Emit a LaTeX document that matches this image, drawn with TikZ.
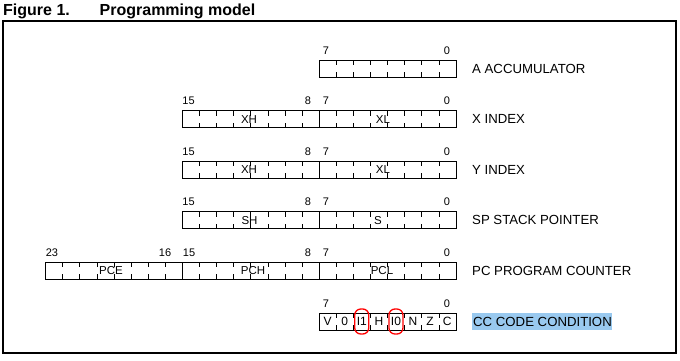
\documentclass[tikz,border=0pt]{standalone}
\usepackage{fontspec}
\setmainfont{Liberation Sans}
\definecolor{hilite}{RGB}{153,201,239}
\newcommand\regrow[2]{% #1 number of bits, #2 top
  \draw[regbox] ({456-#1*17.1},#2) rectangle (456,#2+17);
  \pgfmathtruncatemacro{\nmone}{#1-1}
  \foreach \i in {1,...,\nmone}{
    \draw[tick] ({456-\i*17.1},#2) -- ++(0,5) ({456-\i*17.1},#2+17) -- ++(0,-5);
  }
}
\begin{document}
\begin{tikzpicture}[x=1pt,y=-1pt,
  regbox/.style={draw=black,line width=0.9pt},
  tick/.style={line width=0.8pt},
  bitnum/.style={font=\fontsize{11}{13}\selectfont,anchor=base,inner sep=0pt},
  field/.style={font=\fontsize{11.5}{13}\selectfont,inner sep=0pt},
  reglabel/.style={font=\fontsize{13.2}{15}\selectfont,anchor=west,inner sep=0pt},
  ccbit/.style={font=\fontsize{12}{14}\selectfont,inner sep=0pt},
  ring/.style={draw=red,line width=1.3pt,rounded corners=6pt,minimum width=14pt,minimum height=25pt,inner sep=0pt},
  titletext/.style={font=\fontsize{16}{18}\selectfont\bfseries,anchor=base west,inner sep=0pt}]
\useasboundingbox (0,0) rectangle (680,360);
% title
\node[titletext] (fig) at (3,15) {Figure 1.};
\node[titletext] (ttl) at (99.5,15) {Programming model};
% frame
\draw[line width=1.2pt] (3,21) rectangle (676,353);

% A accumulator
\regrow{8}{60}
\node[bitnum] (a7) at (326,54) {7};
\node[bitnum] (a0) at (447,54) {0};
\node[reglabel] (aname) at (472,68.5) {A ACCUMULATOR};

% X index
\regrow{16}{110.6}
\draw[regbox] (319,110.6) -- (319,127.6);
\node[bitnum] (x15) at (188.5,104.6) {15};
\node[bitnum] (x8) at (308,104.6) {8};
\node[bitnum] (x7) at (326,104.6) {7};
\node[bitnum] (x0) at (447,104.6) {0};
\node[field] (xh) at (249,119.1) {XH};
\node[field] (xl) at (383,119.1) {XL};
\node[reglabel] (xname) at (472,119.1) {X INDEX};

% Y index
\regrow{16}{161.2}
\draw[regbox] (319,161.2) -- (319,178.2);
\node[bitnum] (y15) at (188.5,155.2) {15};
\node[bitnum] (y8) at (308,155.2) {8};
\node[bitnum] (y7) at (326,155.2) {7};
\node[bitnum] (y0) at (447,155.2) {0};
\node[field] (yh) at (249,169.7) {XH};
\node[field] (yl) at (383,169.7) {XL};
\node[reglabel] (yname) at (472,169.7) {Y INDEX};

% SP
\regrow{16}{211.8}
\draw[regbox] (319,211.8) -- (319,228.8);
\node[bitnum] (s15) at (188.5,205.8) {15};
\node[bitnum] (s8) at (308,205.8) {8};
\node[bitnum] (s7) at (326,205.8) {7};
\node[bitnum] (s0) at (447,205.8) {0};
\node[field] (sh) at (249.5,220.3) {SH};
\node[field] (sl) at (378,220.3) {S};
\node[reglabel] (sname) at (472,220.3) {SP STACK POINTER};

% PC
\regrow{24}{262.4}
\draw[regbox] (319,262.4) -- (319,279.4) (182.2,262.4) -- (182.2,279.4);
\node[bitnum] (p23) at (52,256.4) {23};
\node[bitnum] (p16) at (165,256.4) {16};
\node[bitnum] (p15) at (189,256.4) {15};
\node[bitnum] (p8) at (308,256.4) {8};
\node[bitnum] (p7) at (326,256.4) {7};
\node[bitnum] (p0) at (447,256.4) {0};
\node[field] (pce) at (111,270.9) {PCE};
\node[field] (pch) at (253,270.9) {PCH};
\node[field] (pcl) at (382,270.9) {PCL};
\node[reglabel] (pname) at (472,270.9) {PC PROGRAM COUNTER};

% CC
\regrow{8}{313}
\node[bitnum] (c7) at (326,307) {7};
\node[bitnum] (c0) at (447,307) {0};
\foreach \t [count=\k from 0] in {V,0,I1,H,I0,N,Z,C}{
  \node[ccbit] (cc\k) at ({319+17.1*\k+8.55},321.5) {\t};
}
\node[ring] (r1) at (cc2) {};
\node[ring] (r0) at (cc4) {};
\fill[hilite] (472,313) rectangle (612,329.5);
\node[reglabel] (cname) at (473,321.5) {CC CODE CONDITION};
\end{tikzpicture}
\end{document}
